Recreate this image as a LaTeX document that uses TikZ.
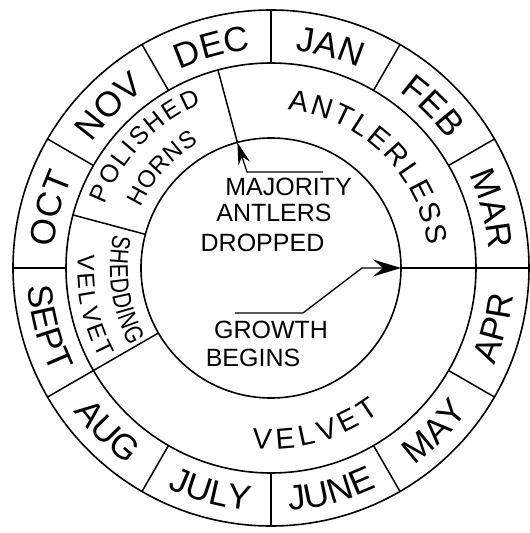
\documentclass[tikz,border=0pt]{standalone}
\usepackage{fontspec}
\setmainfont{Liberation Sans}
\newfontfamily\condfamily[FakeStretch=0.8]{Liberation Sans}
\usetikzlibrary{decorations.text,arrows.meta}
\newcommand\monthfont{\fontsize{35}{40}\selectfont}
\newcommand\bigfont{\fontsize{29}{34}\selectfont}
\newcommand\midfont{\fontsize{25}{30}\selectfont}
\newcommand\hornfont{\fontsize{24}{28}\selectfont}
\newcommand\smallfont{\condfamily\fontsize{26}{30}\selectfont}
\newcommand\velfont{\fontsize{24}{28}\selectfont}
\newcommand\innerfont{\fontsize{25}{30}\selectfont}
\tikzset{
  ring/.style={line width=1.6pt},
  divider/.style={line width=1.5pt},
  leader/.style={line width=1.3pt},
  tiptop/.style={-{Stealth[length=22pt,width=12pt,inset=7pt]}},
  tipright/.style={-{Stealth[length=28pt,width=17pt,inset=10pt]}},
  inlabel/.style={font=\innerfont, inner sep=0pt, anchor=center}
}
% label along an arc: #1 start angle, #2 end angle, #3 radius, #4 text, #5 align
\newcommand\arclabel[5]{%
  \path[decorate,decoration={text along path,text={#4},text align=#5}]
    (#1:#3) arc[start angle=#1,end angle=#2,radius=#3];}
\begin{document}
\begin{tikzpicture}[x=1pt,y=1pt]
\useasboundingbox (-271,-265) rectangle (259,268);
% circles
\draw[ring] (0,0) circle[radius=258];
\draw[ring] (0,0) circle[radius=205];
\draw[ring] (0,0) circle[radius=130];
% month dividers
\foreach \a in {30,60,...,180,240,270,300,330}
  \draw[divider] (\a:205) -- (\a:258);
% long dividers through both rings
\draw[divider] (0:130) -- (0:258);
\draw[divider] (210:130) -- (210:258);
% inner ring dividers
\draw[divider] (105:130) -- (105:205);
\draw[divider] (165:130) -- (165:205);
% month labels (upper half, clockwise)
\arclabel{120}{90}{218.5}{|\monthfont|DEC}{center}
\arclabel{90}{60}{218.5}{|\monthfont|JAN}{center}
\arclabel{60}{30}{218.5}{|\monthfont|FEB}{center}
\arclabel{30}{0}{218.5}{|\monthfont|MAR}{center}
\arclabel{150}{120}{218.5}{|\monthfont|NOV}{center}
\arclabel{180}{150}{218.5}{|\monthfont|OCT}{center}
% month labels (lower half, counterclockwise)
\arclabel{180}{210}{243.5}{|\monthfont|SEPT}{center}
\arclabel{210}{240}{243.5}{|\monthfont|AUG}{center}
\arclabel{240}{270}{243.5}{|\monthfont|JULY}{center}
\arclabel{270}{300}{243.5}{|\monthfont|JUNE}{center}
\arclabel{300}{330}{243.5}{|\monthfont|MAY}{center}
\arclabel{330}{360}{243.5}{|\monthfont|APR}{center}
% inner ring labels
\arclabel{84}{8}{159}{|\bigfont|ANTLERLESS}{fit to path}
\arclabel{159}{113}{178}{|\midfont|POLISHED}{fit to path}
\arclabel{155}{120}{144}{|\hornfont|HORNS}{fit to path}
\arclabel{168}{209}{161}{|\smallfont|SHEDDING}{fit to path}
\arclabel{176}{208}{193.5}{|\velfont|VELVET}{fit to path}
\arclabel{264}{307}{181}{|\bigfont|VELVET}{fit to path}
% centre texts
\node[inlabel] (maj) at (17.5,81) {MAJORITY};
\node[inlabel] (ant) at (3,55) {ANTLERS};
\node[inlabel] (dro) at (-8.5,25) {DROPPED};
\node[inlabel] (gro) at (0,-62) {GROWTH};
\node[inlabel] (beg) at (-18,-90) {BEGINS};
% leaders
\coordinate (mA) at (52,96);
\coordinate (mB) at (-24,96);
\coordinate (tipA) at (105:130);
\coordinate (gA) at (-36,-45);
\coordinate (gB) at (32,-45);
\coordinate (gC) at (91,0);
\coordinate (tipB) at (0:130);
\draw[leader,tiptop] (mA) -- (mB) -- (tipA);
\draw[leader,tipright] (gA) -- (gB) -- (gC) -- (tipB);
\end{tikzpicture}
\end{document}
